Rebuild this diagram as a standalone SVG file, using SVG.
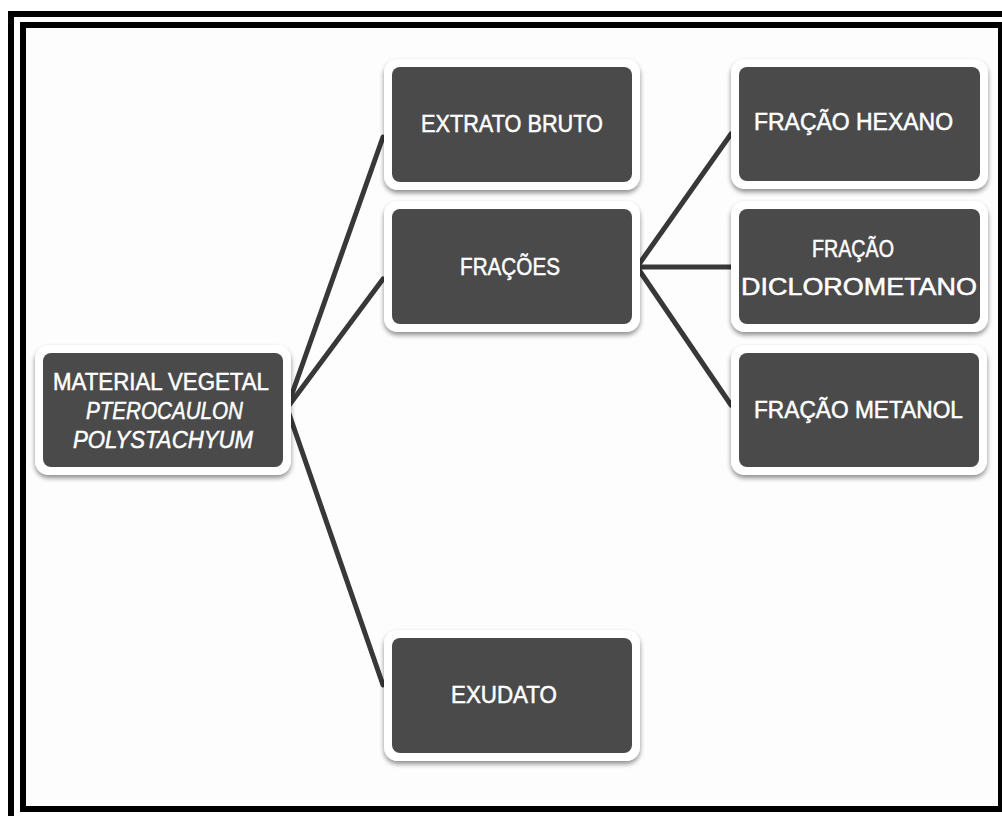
<svg xmlns="http://www.w3.org/2000/svg" width="1002" height="816" viewBox="0 0 1002 816">
  <defs>
    <filter id="sh" x="-10%" y="-10%" width="120%" height="130%">
      <feGaussianBlur in="SourceAlpha" stdDeviation="2.5"/>
      <feOffset dx="0" dy="3" result="b"/>
      <feComponentTransfer><feFuncA type="linear" slope="0.45"/></feComponentTransfer>
      <feMerge><feMergeNode/><feMergeNode in="SourceGraphic"/></feMerge>
    </filter>
  </defs>
  <style>
    .frame { fill: none; stroke: #000; stroke-width: 6; }
    .halo { fill: #ffffff; filter: url(#sh); }
    .box { fill: #4a4a4a; }
    .t { fill: #ffffff; stroke: #ffffff; stroke-width: 0.5; font-family: "Liberation Sans", Arial, sans-serif; font-size: 23.5px; text-anchor: middle; }
    .it { font-style: italic; }
    .conn { stroke: #383838; stroke-width: 5; fill: none; stroke-linecap: round; }
  </style>
  <rect x="0" y="0" width="1002" height="816" fill="#ffffff"/>
  <rect x="23" y="25" width="978" height="784" fill="#fdfdfd"/>
  <rect class="frame" x="11" y="14" width="1000" height="820"/>
  <rect class="frame" x="23" y="25" width="978" height="784"/>

  <g id="connectors">
    <line class="conn" x1="287" y1="408" x2="383" y2="137"/>
    <line class="conn" x1="287" y1="408" x2="383" y2="279"/>
    <line class="conn" x1="287" y1="408" x2="383" y2="685"/>
    <line class="conn" x1="637" y1="267" x2="731" y2="134"/>
    <line class="conn" x1="637" y1="267" x2="731" y2="267"/>
    <line class="conn" x1="637" y1="267" x2="731" y2="405"/>
  </g>

  <g id="material">
    <rect class="halo" x="35" y="345" width="256" height="130" rx="14"/>
    <rect class="box" x="43" y="353" width="240" height="114" rx="8"/>
    <text class="t" x="161" y="390" textLength="216" lengthAdjust="spacingAndGlyphs">MATERIAL VEGETAL</text>
    <text class="t it" x="164.5" y="419" textLength="157" lengthAdjust="spacingAndGlyphs">PTEROCAULON</text>
    <text class="t it" x="163" y="448" textLength="180" lengthAdjust="spacingAndGlyphs">POLYSTACHYUM</text>
  </g>

  <g id="extrato">
    <rect class="halo" x="384" y="59" width="256" height="131" rx="14"/>
    <rect class="box" x="392" y="67" width="240" height="115" rx="8"/>
    <text class="t" x="512" y="132" textLength="182" lengthAdjust="spacingAndGlyphs">EXTRATO BRUTO</text>
  </g>

  <g id="fracoes">
    <rect class="halo" x="384" y="201" width="256" height="131" rx="14"/>
    <rect class="box" x="392" y="209" width="240" height="115" rx="8"/>
    <text class="t" x="510" y="275" textLength="100" lengthAdjust="spacingAndGlyphs">FRAÇÕES</text>
  </g>

  <g id="hexano">
    <rect class="halo" x="731" y="59" width="257" height="130" rx="14"/>
    <rect class="box" x="739" y="67" width="241" height="114" rx="8"/>
    <text class="t" x="853.5" y="130" textLength="199" lengthAdjust="spacingAndGlyphs">FRAÇÃO HEXANO</text>
  </g>

  <g id="diclorometano">
    <rect class="halo" x="731" y="201" width="257" height="131" rx="14"/>
    <rect class="box" x="739" y="209" width="241" height="115" rx="8"/>
    <text class="t" x="853" y="257" textLength="82" lengthAdjust="spacingAndGlyphs">FRAÇÃO</text>
    <text class="t" x="859" y="295" textLength="236" lengthAdjust="spacingAndGlyphs">DICLOROMETANO</text>
  </g>

  <g id="metanol">
    <rect class="halo" x="731" y="345" width="256" height="130" rx="14"/>
    <rect class="box" x="739" y="353" width="240" height="114" rx="8"/>
    <text class="t" x="858.5" y="418" textLength="209" lengthAdjust="spacingAndGlyphs">FRAÇÃO METANOL</text>
  </g>

  <g id="exudato">
    <rect class="halo" x="384" y="630" width="256" height="131" rx="14"/>
    <rect class="box" x="392" y="638" width="240" height="115" rx="8"/>
    <text class="t" x="504" y="703" textLength="106" lengthAdjust="spacingAndGlyphs">EXUDATO</text>
  </g>
</svg>
